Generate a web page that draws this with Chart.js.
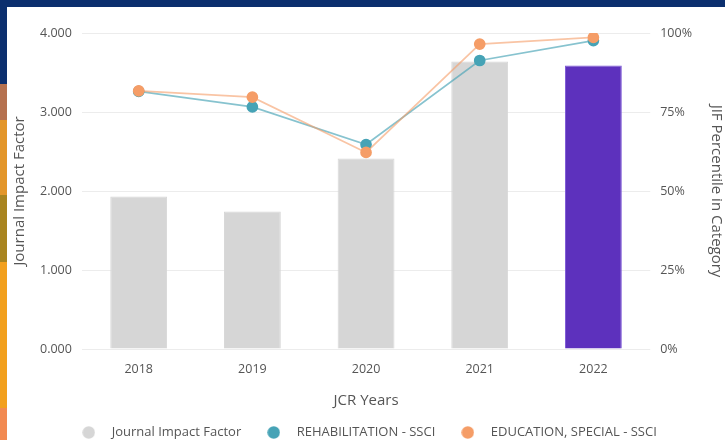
<!DOCTYPE html>
<html>
<head>
<meta charset="utf-8">
<script src="https://cdn.jsdelivr.net/npm/chart.js@4.4.0/dist/chart.umd.min.js"></script>
<style>
  html, body { margin: 0; padding: 0; }
  body {
    width: 725px; height: 440px; overflow: hidden; position: relative;
    background: linear-gradient(to bottom, #0b2f6e 0, #0b2f6e 84px, #b5714f 84px, #b5714f 120px,
      #e3962a 120px, #e3962a 195px, #a8841f 195px, #a8841f 262px, #f2a01e 262px, #f2a01e 408px,
      #f28a52 408px);
  }
  .topbar { position: absolute; left: 0; top: 0; width: 725px; height: 7px; background: #0b2f6e; }
  .card { position: absolute; left: 7px; top: 7px; right: 0; bottom: 0; background: #fff; }
  #wrap { position: absolute; left: 0; top: 0; width: 725px; height: 440px; }
</style>
</head>
<body>
<div class="topbar"></div>
<div class="card"></div>
<div id="wrap"><canvas id="jcrChart"></canvas></div>
<script>
const years = ['2018', '2019', '2020', '2021', '2022'];
const impactFactor = [1.93, 1.74, 2.41, 3.64, 3.59];
const rehabPercentile = [81.5, 76.6, 64.7, 91.3, 97.6];
const eduPercentile = [81.7, 79.7, 62.2, 96.5, 98.6];
const leftTicks = [0, 1, 2, 3, 4];
const rightTicks = [0, 25, 50, 75, 100];

const grey = '#d6d6d6';
const purple = '#5d31bd';
const teal = '#46a3b6';
const orange = '#f59d67';

const family = "'Open Sans', sans-serif";
const tickFont = { family: family, size: 12.5 };
const titleFont = { family: family, size: 15 };
const textColor = '#555';

// round legend marker, drawn as a small image so it keeps its size
function dot(color) {
    const c = document.createElement('canvas');
    c.width = 13;
    c.height = 13;
    const g = c.getContext('2d');
    g.fillStyle = color;
    g.beginPath();
    g.arc(6.5, 6.5, 6.2, 0, Math.PI * 2);
    g.fill();
    return c;
}

const ctx = document.getElementById('jcrChart').getContext('2d');

new Chart(ctx, {
    type: 'bar',
    data: {
        labels: years,
        datasets: [{
            type: 'line',
            label: 'REHABILITATION - SSCI',
            data: rehabPercentile,
            yAxisID: 'y1',
            borderColor: 'rgba(70, 163, 182, 0.65)',
            borderWidth: 1.7,
            backgroundColor: teal,
            pointBackgroundColor: teal,
            pointBorderColor: teal,
            pointRadius: 5,
            order: 2
        }, {
            type: 'line',
            label: 'EDUCATION, SPECIAL - SSCI',
            data: eduPercentile,
            yAxisID: 'y1',
            borderColor: 'rgba(245, 157, 103, 0.6)',
            borderWidth: 1.7,
            backgroundColor: orange,
            pointBackgroundColor: orange,
            pointBorderColor: orange,
            pointRadius: 5,
            order: 1
        }, {
            label: 'Journal Impact Factor',
            data: impactFactor,
            yAxisID: 'y',
            backgroundColor: [grey, grey, grey, grey, purple],
            borderColor: [grey, grey, grey, grey, '#7d5ad6'],
            borderWidth: 1,
            barPercentage: 0.5,
            categoryPercentage: 1.0,
            order: 3
        }]
    },
    options: {
        responsive: true,
        maintainAspectRatio: false,
        animation: false,
        layout: { padding: { left: 4, right: 0, top: 33, bottom: -9 } },
        plugins: {
            tooltip: { enabled: false },
            legend: {
                position: 'bottom',
                labels: {
                    usePointStyle: true,
                    pointStyleWidth: 33,
                    boxHeight: 13,
                    padding: 16,
                    color: textColor,
                    font: { family: family, size: 13 },
                    generateLabels: chart => Chart.defaults.plugins.legend.labels.generateLabels(chart)
                        .map(item => Object.assign(item, { pointStyle: dot(item.fillStyle) })),
                    sort: (a, b) => {
                        const rank = [1, 2, 0];
                        return rank[a.datasetIndex] - rank[b.datasetIndex];
                    }
                }
            }
        },
        scales: {
            x: {
                grid: { display: false, drawTicks: false },
                border: { display: false },
                ticks: { color: textColor, font: tickFont, padding: 13 },
                title: { display: true, text: 'JCR Years', color: textColor, font: titleFont, padding: { top: 2, bottom: 0 } }
            },
            y: {
                position: 'left',
                min: 0,
                max: 4,
                afterBuildTicks: axis => { axis.ticks = leftTicks.map(v => ({ value: v })); },
                grid: { color: '#ececec', drawTicks: false },
                border: { display: false },
                ticks: { color: textColor, font: tickFont, padding: 10, callback: v => v.toFixed(3) },
                title: { display: true, text: 'Journal Impact Factor', color: textColor, font: titleFont, padding: { top: 7, bottom: 1 } }
            },
            y1: {
                position: 'right',
                min: 0,
                max: 100,
                afterBuildTicks: axis => { axis.ticks = rightTicks.map(v => ({ value: v })); },
                grid: { drawOnChartArea: false, drawTicks: false },
                border: { display: false },
                ticks: { color: textColor, font: tickFont, padding: 10, callback: v => v + '%' },
                title: { display: true, text: 'JIF Percentile in Category', color: textColor, font: titleFont, padding: { top: 0, bottom: 5 } }
            }
        }
    }
});
</script>
</body>
</html>
